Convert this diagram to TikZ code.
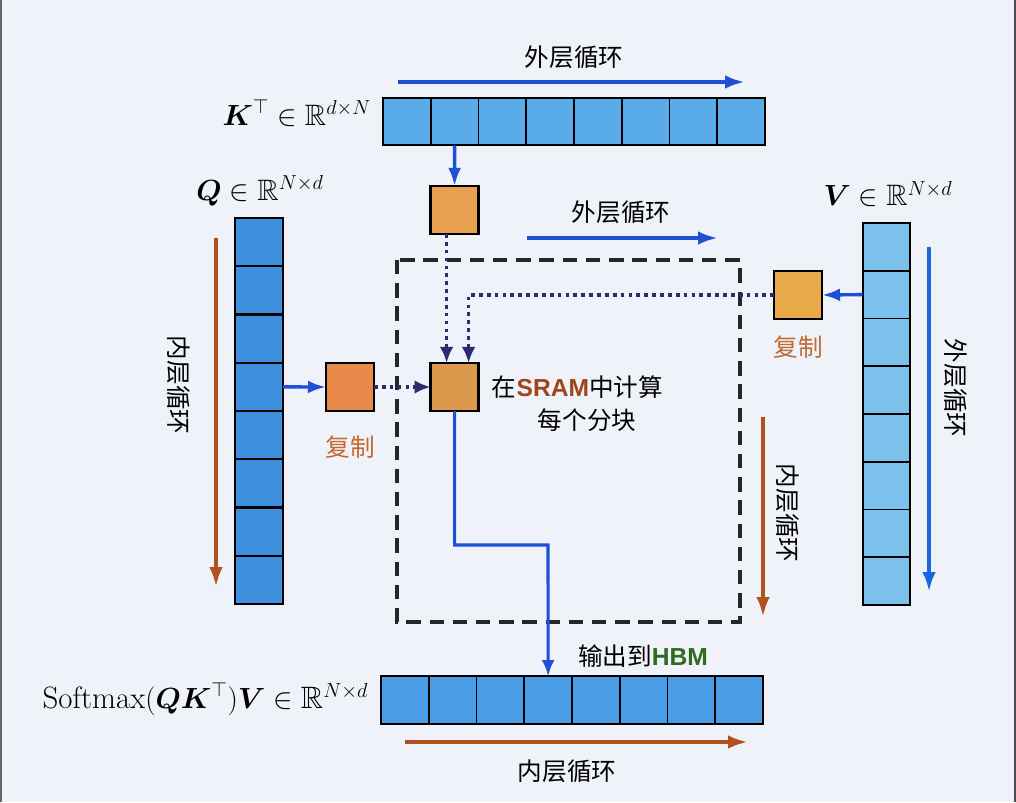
\documentclass[tikz,border=0pt]{standalone}
\usepackage{amssymb,amsmath}
\usepackage{fontspec}
\newfontfamily\cjk{Noto Sans CJK SC}
\newfontfamily\latb{Liberation Sans}
\usepackage{xcolor}
\usepackage{tikz}
\usetikzlibrary{arrows.meta}
\definecolor{bgcolor}{HTML}{EFF2F8}
\definecolor{qblue}{HTML}{3F8FDF}
\definecolor{kblue}{HTML}{5AACE8}
\definecolor{vblue}{HTML}{7CC0EC}
\definecolor{oblue}{HTML}{4A9CE4}
\definecolor{blkorange}{HTML}{E8A151}
\definecolor{qorange}{HTML}{E88A4A}
\definecolor{loopblue}{HTML}{1E4FD6}
\definecolor{loopbrown}{HTML}{B2501E}
\definecolor{dotnavy}{HTML}{2B2B6E}
\definecolor{copycolor}{HTML}{C26A32}
\definecolor{sramcolor}{HTML}{A0441A}
\definecolor{hbmcolor}{HTML}{2E6B1E}

\begin{document}
\begin{tikzpicture}[x=0.025cm,y=-0.025cm,
  cell/.style={draw=black,line width=1.2pt,minimum width=1.19cm,minimum height=1.19cm,inner sep=0pt,outer sep=0pt},
  blk/.style={draw=black,line width=2pt,minimum width=1.2cm,minimum height=1.2cm,inner sep=0pt,outer sep=0pt},
  cn/.style={font=\cjk\fontsize{17.5}{20}\selectfont},
  mth/.style={font=\fontsize{21}{24}\selectfont},
  outerloop/.style={draw=loopblue,line width=3pt,-{Latex[length=5mm,width=3.4mm]}},
  innerloop/.style={draw=loopbrown,line width=3pt,-{Latex[length=5mm,width=3.4mm]}},
  feed/.style={draw=loopblue,line width=2.4pt,-{Latex[length=4.5mm,width=3.2mm]}},
  dots/.style={draw=dotnavy,line width=2.6pt,dash pattern=on 2.6pt off 3pt,-{Latex[length=4mm,width=3.4mm]}}]

  \fill[bgcolor] (0,0) rectangle (1016,802);
  \useasboundingbox (0,0) rectangle (1016,802);
  \draw[black!60,line width=1.5pt] (1,0) -- (1,802);
  \draw[black!70,line width=2pt] (1015,0) -- (1015,802);

%% the four rows of blocks
\foreach \i in {1,...,8}
  \node[cell,fill=kblue] (k\i) at ({383+47.75*(\i-0.5)},121.5) {};
\foreach \i in {1,...,8}
  \node[cell,fill=qblue] (q\i) at (259,{218+48.25*(\i-0.5)}) {};
\foreach \i in {1,...,8}
  \node[cell,fill=vblue] (v\i) at (886.5,{223+47.75*(\i-0.5)}) {};
\foreach \i in {1,...,8}
  \node[cell,fill=oblue] (o\i) at ({381+47.75*(\i-0.5)},700) {};

  \node[mth,anchor=east] (klab) at (376,113) {$\boldsymbol{K}^{\top}\in\mathbb{R}^{d\times N}$};
  \node[mth] (qlab) at (260,191) {$\boldsymbol{Q}\in\mathbb{R}^{N\times d}$};
  \node[mth] (vlab) at (888,194) {$\boldsymbol{V}\in\mathbb{R}^{N\times d}$};
  \node[mth,anchor=east,font=\fontsize{22}{25}\selectfont] (olab) at (373,699) {$\mathrm{Softmax}(\boldsymbol{Q}\boldsymbol{K}^{\top})\boldsymbol{V}\in\mathbb{R}^{N\times d}$};

%% SRAM
  \draw[black!85,line width=2.6pt,dash pattern=on 0.36cm off 0.22cm] (397,260) rectangle (740,622);

  \node[blk,fill=blkorange] (kc) at (454.6,210) {};
  \node[blk,fill=qorange] (qc) at (350,387) {};
  \node[blk,fill=blkorange!90!yellow] (vc) at (798,295) {};
  \node[blk,fill=blkorange!95!black] (cb) at (454.6,387) {};

  \node[cn,text=copycolor] (qcopy) at (350,447) {复制};
  \node[cn,text=copycolor] (vcopy) at (798,347) {复制};
  \node[cn,anchor=west] (sram) at (487,387) {在{\latb\bfseries\color{sramcolor}SRAM}中计算};
  \node[cn] (tile) at (587,420) {每个分块};
  \node[cn] (hbm) at (643,656) {输出到{\latb\bfseries\color{hbmcolor}HBM}};

  \draw[feed] (k2.south) -- (kc.north);
  \draw[feed] (q4.east) -- (qc.west);
  \draw[feed] (v2.west) -- (vc.east);
  \draw[dots] (qc.east) -- (cb.west);
  \draw[dots] ([xshift=-0.2cm]kc.south) -- ([xshift=-0.2cm]cb.north);
  \draw[dots] (vc.west) -| ([xshift=0.35cm]cb.north);
  \coordinate (bend) at (548,545);
  \draw[loopblue,line width=2.2pt,-{Latex[length=4mm,width=3.2mm]}] (cb.south) |- (bend) -- (o4.north);

%% loop directions
  \draw[outerloop] (398,82) -- (745,82);
  \node[cn] (out1) at (574,57) {外层循环};
  \draw[outerloop] (527,238) -- (718,238);
  \node[cn] (out2) at (621,212) {外层循环};
  \draw[outerloop,draw=loopblue!85!cyan] (929,247) -- (929,592);
  \node[cn,rotate=-90] (out3) at (956,388) {外层循环};
  \draw[innerloop] (216,238) -- (216,587);
  \node[cn,rotate=-90] (in1) at (179,385) {内层循环};
  \draw[innerloop] (763,417) -- (763,617);
  \node[cn,rotate=-90] (in2) at (788,513) {内层循环};
  \draw[innerloop] (405,742) -- (748,742);
  \node[cn] (in3) at (567,771) {内层循环};
\end{tikzpicture}
\end{document}
